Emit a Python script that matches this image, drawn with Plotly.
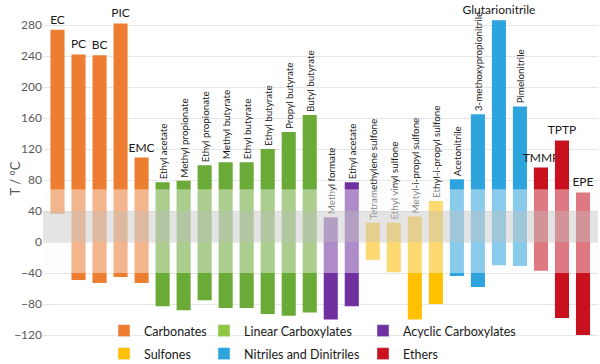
import plotly.graph_objects as go

# ---- data ----
solvents = ["EC", "PC", "BC", "PIC", "EMC",
            "Ethyl acetate", "Methyl propionate", "Ethyl propionate", "Methyl butyrate",
            "Ethyl butyrate", "Ethyl butyrate", "Propyl butyrate", "Butyl butyrate",
            "Methyl formate", "Ethyl acetate",
            "Tetramethylene sulfone", "Ethyl vinyl sulfone", "Metyl-i-propyl sulfone", "Ethyl-i-propyl sulfone",
            "Acetonitrile", "3-methoxypropionitrile", "Glutarionitrile", "Pimelonitrile",
            "TMMP", "TPTP", "EPE"]
boiling = [274, 242, 241, 282, 109,
           77, 79, 99, 103, 103, 120, 142, 164,
           32, 77,
           25, 25, 33, 53,
           81, 165, 286, 175,
           96, 131, 64]
melting = [36, -49, -53, -45, -53,
           -83, -88, -75, -85, -85, -93, -95, -91,
           -100, -83,
           -23, -39, -100, -80,
           -44, -58, -30, -31,
           -37, -98, -120]
groups = (["Carbonates"] * 5 + ["Linear Carboxylates"] * 8 + ["Acyclic Carboxylates"] * 2 +
          ["Sulfones"] * 4 + ["Nitriles and Dinitriles"] * 4 + ["Ethers"] * 3)
group_names = ["Carbonates", "Linear Carboxylates", "Acyclic Carboxylates",
               "Sulfones", "Nitriles and Dinitriles", "Ethers"]
y_ticks = [-120, -80, -40, 0, 40, 80, 120, 160, 200, 240, 280]
operating_band = [-40, 68]
room_band = [0, 40]

# ---- styles ----
bar_colors = {"Carbonates": "#ED7D31", "Linear Carboxylates": "#6AAA36",
              "Acyclic Carboxylates": "#7030A0", "Sulfones": "#FFC000",
              "Nitriles and Dinitriles": "#2EA4DF", "Ethers": "#C8101E"}
legend_colors = {"Carbonates": "#ED7D31", "Linear Carboxylates": "#8DC63F",
                 "Acyclic Carboxylates": "#7030A0", "Sulfones": "#FFC000",
                 "Nitriles and Dinitriles": "#2EA4DF", "Ethers": "#C8101E"}
horizontal_labels = {"EC", "PC", "BC", "PIC", "EMC", "Glutarionitrile", "TMMP", "TPTP", "EPE"}
FONT = "Lato"

fig = go.Figure()
for i, name in enumerate(solvents):
    horiz = name in horizontal_labels
    fig.add_trace(go.Bar(
        x=[i], y=[boiling[i] - melting[i]], base=[melting[i]],
        width=0.67,
        marker=dict(color=bar_colors[groups[i]], line=dict(width=0)),
        text=[name], textposition="outside",
        textangle=0 if horiz else -90,
        textfont=dict(family=FONT, size=12 if horiz else 9.8, color="#1a1a1a"),
        constraintext="none", cliponaxis=False,
        showlegend=False, hoverinfo="skip",
    ))

plot_l, plot_r, plot_t, plot_b = 43, 2, 15, 19
W, H = 600, 364
pw, ph = W - plot_l - plot_r, H - plot_t - plot_b
col_px = [104, 204, 363]
row_px = [331, 354]
legend_layout = {}
for k, g in enumerate(group_names):
    lname = "legend" if k == 0 else f"legend{k + 1}"
    col, row = k % 3, k // 3
    fig.add_trace(go.Bar(x=[None], y=[None], name=g, legend=lname,
                         marker=dict(color=legend_colors[g]), showlegend=True))
    legend_layout[lname] = dict(
        xref="container", yref="container",
        x=col_px[col] / W, xanchor="left",
        y=1 - row_px[row] / H, yanchor="middle",
        bgcolor="rgba(0,0,0,0)", borderwidth=0,
        font=dict(family=FONT, size=12.5, color="#1a1a1a"),
        itemclick=False, itemdoubleclick=False,
    )

# bands referenced to the x-axis domain so they start at the plot's left edge
fig.add_shape(type="rect", xref="x domain", x0=0, x1=1, yref="y",
              y0=operating_band[0], y1=operating_band[1],
              fillcolor="rgba(250,250,250,0.45)", line=dict(width=0), layer="above")
fig.add_shape(type="rect", xref="x domain", x0=0, x1=1, yref="y",
              y0=room_band[0], y1=room_band[1],
              fillcolor="rgba(190,190,190,0.4)", line=dict(width=0), layer="above")

px_per_unit = 21.02
first_center = 57.5
x0 = (plot_l - first_center) / px_per_unit
x1 = x0 + pw / px_per_unit
deg_per_px = 1 / 0.775
y_lo = -(H - plot_b - 242) * deg_per_px
y_hi = (242 - plot_t) * deg_per_px

# y-axis title
fig.add_annotation(text="T / °C", xref="x domain", x=-28 / pw, xanchor="center",
                   yref="y", y=82, yanchor="middle", textangle=-90, showarrow=False,
                   font=dict(family=FONT, size=13, color="#595959"))

fig.update_layout(
    width=W, height=H,
    margin=dict(l=plot_l, r=plot_r, t=plot_t, b=plot_b, autoexpand=False),
    paper_bgcolor="white", plot_bgcolor="white",
    barmode="overlay",
    font=dict(family=FONT, color="#595959"),
    xaxis=dict(range=[x0, x1], showticklabels=False, showgrid=False,
               zeroline=False, showline=False, ticks="", automargin=False),
    yaxis=dict(range=[y_lo, y_hi], tickvals=y_ticks, showgrid=True,
               gridcolor="#E6E6E6", gridwidth=1, zeroline=False, showline=False,
               automargin=False, ticks="", ticklen=0,
               tickfont=dict(family=FONT, size=12, color="#595959")),
    **legend_layout,
)

fig.write_html("out.html",
               config={"displayModeBar": False, "staticPlot": True},
               post_script="document.body.style.margin='0';document.body.style.overflow='hidden';")
